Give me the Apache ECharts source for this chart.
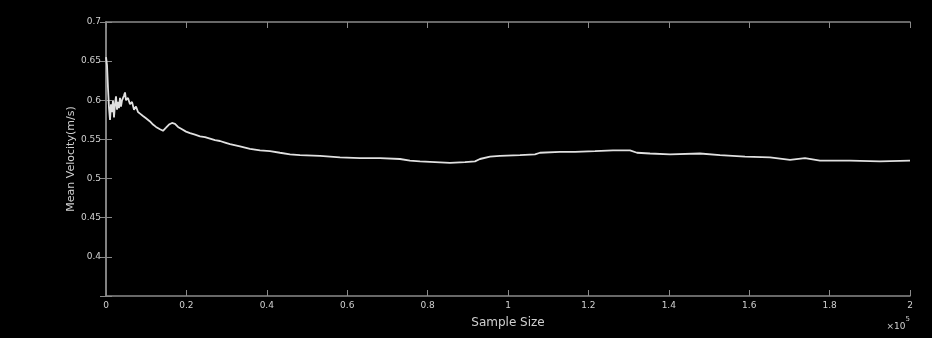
<!DOCTYPE html>
<html>
<head>
<meta charset="utf-8">
<script src="https://cdn.jsdelivr.net/npm/echarts@6/dist/echarts.min.js"></script>
<style>
html,body{margin:0;padding:0;background:#000;}
#c{width:932px;height:338px;}
</style>
</head>
<body>
<div id="c"></div>
<script>
// Sample size in units of 1e5
var sampleSize = [0,0.0025,0.005,0.0075,0.01,0.0124,0.0149,0.0174,0.0199,0.0224,0.0249,0.0274,0.0299,0.0323,0.0348,0.0373,0.0398,0.0448,0.0473,0.0498,0.0547,0.0597,0.0647,0.0697,0.0746,0.0796,0.0846,0.092,0.0995,0.1095,0.1169,0.1244,0.1343,0.1418,0.1493,0.1567,0.1642,0.1716,0.1791,0.1891,0.199,0.209,0.2214,0.2338,0.2463,0.2587,0.2711,0.2836,0.296,0.3085,0.3333,0.3582,0.3831,0.408,0.4328,0.4577,0.4826,0.5323,0.5821,0.6318,0.6816,0.7313,0.7562,0.7811,0.8184,0.8557,0.893,0.9179,0.9303,0.9552,0.9801,1.0299,1.0672,1.0796,1.1294,1.1667,1.2164,1.2612,1.3035,1.3209,1.3532,1.403,1.4776,1.5274,1.5896,1.6517,1.7015,1.7388,1.7761,1.8507,1.9254,2.0];
var meanVelocity = [0.655,0.645,0.615,0.59,0.575,0.595,0.585,0.600,0.578,0.595,0.605,0.588,0.598,0.590,0.603,0.592,0.600,0.606,0.610,0.600,0.603,0.595,0.598,0.588,0.592,0.585,0.583,0.580,0.577,0.573,0.569,0.566,0.563,0.561,0.565,0.569,0.571,0.570,0.566,0.563,0.560,0.558,0.556,0.554,0.553,0.551,0.549,0.548,0.546,0.544,0.541,0.538,0.536,0.535,0.533,0.531,0.530,0.529,0.527,0.526,0.526,0.525,0.523,0.522,0.521,0.520,0.521,0.522,0.525,0.528,0.529,0.530,0.531,0.533,0.534,0.534,0.535,0.536,0.536,0.533,0.532,0.531,0.532,0.530,0.528,0.527,0.524,0.526,0.523,0.523,0.522,0.523];
var xTicks = [0,0.2,0.4,0.6,0.8,1,1.2,1.4,1.6,1.8,2];
var yTicks = [0.35,0.4,0.45,0.5,0.55,0.6,0.65,0.7];

var data = sampleSize.map(function(x,i){return [x, meanVelocity[i]];});
var axisColor = '#8a8a8a';
var labelColor = '#d0d0d0';
var chart = echarts.init(document.getElementById('c'));
chart.setOption({
  backgroundColor: '#000',
  animation: false,
  grid: {left: 106, right: 22, top: 22, bottom: 42},
  xAxis: [{
    type: 'value', min: 0, max: 2, interval: 0.2,
    name: 'Sample Size', nameLocation: 'middle', nameGap: 21,
    nameTextStyle: {color: labelColor, fontSize: 12, fontFamily: 'DejaVu Sans'},
    axisLine: {lineStyle: {color: axisColor, width: 1.5}},
    axisTick: {inside: true, length: 6, lineStyle: {color: axisColor}},
    axisLabel: {color: labelColor, fontSize: 9, margin: 5, fontFamily: 'DejaVu Sans',
      formatter: function(v){ var r = Math.round(v*10)/10; return String(r); }},
    splitLine: {show: false}
  },{
    type: 'value', min: 0, max: 2, interval: 0.2, position: 'top',
    axisLine: {lineStyle: {color: axisColor, width: 1.5}},
    axisTick: {inside: true, length: 6, lineStyle: {color: axisColor}},
    axisLabel: {show: false}, splitLine: {show: false}
  }],
  yAxis: [{
    type: 'value', min: 0.35, max: 0.7, interval: 0.05,
    name: 'Mean Velocity(m/s)', nameLocation: 'middle', nameGap: 29, nameRotate: 90,
    nameMoveOverlap: false,
    nameTextStyle: {color: labelColor, fontSize: 11, fontFamily: 'DejaVu Sans'},
    axisLine: {show: true, lineStyle: {color: axisColor, width: 1.5}},
    axisTick: {show: true, inside: true, length: 6, lineStyle: {color: axisColor}},
    axisLabel: {color: labelColor, fontSize: 9, margin: 5, fontFamily: 'DejaVu Sans',
      formatter: function(v){ var r = Math.round(v*100)/100; return r < 0.36 ? '' : String(r); }},
    splitLine: {show: false}
  },{
    type: 'value', min: 0.35, max: 0.7, interval: 0.05, position: 'right',
    axisLine: {show: true, lineStyle: {color: axisColor, width: 1.5}},
    axisTick: {show: true, inside: true, length: 6, lineStyle: {color: axisColor}},
    axisLabel: {show: false}, splitLine: {show: false}
  }],
  graphic: [{
    type: 'text', right: 22, top: 316,
    style: {
      text: '{a|×10}{b|5}',
      rich: {
        a: {fill: labelColor, fontSize: 9, fontFamily: 'DejaVu Sans', verticalAlign: 'bottom'},
        b: {fill: labelColor, fontSize: 7, fontFamily: 'DejaVu Sans', padding: [0,0,8,0]}
      }
    }
  }],
  series: [{
    type: 'line', data: data, showSymbol: false, smooth: false,
    xAxisIndex: 0, yAxisIndex: 0,
    lineStyle: {color: '#e0e0e0', width: 1.8}
  }]
});
</script>
</body>
</html>
